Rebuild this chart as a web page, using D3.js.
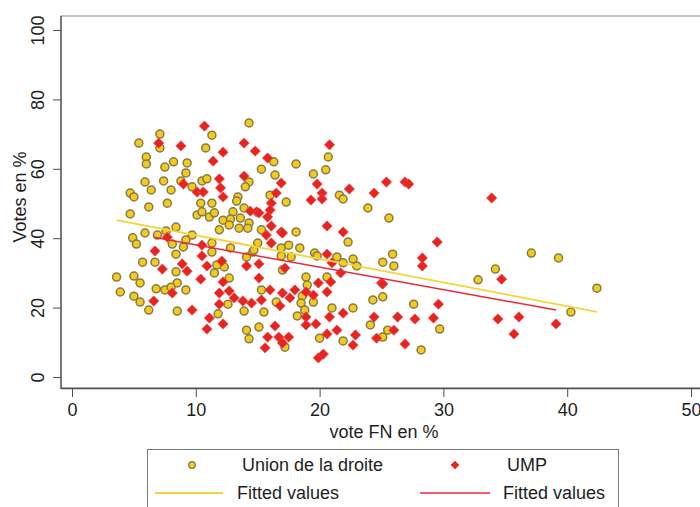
<!DOCTYPE html>
<html><head><meta charset="utf-8">
<script src="https://cdn.jsdelivr.net/npm/d3@7"></script>
<style>body{margin:0;background:#fff}svg{display:block;font-family:"Liberation Sans",Arial,Helvetica,sans-serif}</style>
</head><body><svg id="c" width="700" height="507"></svg>
<script>
// Union de la droite (x = vote FN %, y = votes %)
const udX=[14.3,11.3,7.1,7.1,5.4,10.8,6.0,6.0,8.2,9.3,7.5,9.2,14.3,14.0,5.9,7.4,8.8,9.7,10.5,10.9,6.4,8.0,4.7,5.0,10.4,7.7,11.3,13.4,13.3,6.2,4.7,10.1,10.5,11.1,11.5,13.0,12.2,12.8,13.6,13.9,12.7,13.5,14.3,14.2,8.4,11.9,9.7,5.9,4.9,5.2,6.9,7.6,9.2,11.3,8.1,8.4,11.3,12.8,14.6,15.0,5.7,6.7,12.3,11.5,3.6,5.0,5.5,8.4,8.5,12.7,3.9,5.0,5.5,6.8,7.5,8.0,9.2,6.2,8.5,12.6,13.9,11.8,14.1,14.3,15.3,15.5,15.1,17.2,16.5,14.1,14.7,16.9,17.5,18.1,18.4,17.7,16.9,17.0,15.3,18.9,19.0,18.6,18.5,19.5,18.8,18.2,20.6,20.0,21.9,19.6,19.8,21.4,21.9,22.7,23.0,22.3,25.1,25.9,26.0,25.1,24.3,22.7,21.0,24.1,25.5,25.1,25.6,23.9,21.6,21.9,20.7,20.5,19.5,18.1,16.3,15.3,16.4,16.0,17.3,27.6,28.2,29.7,32.8,34.2,37.1,39.3,40.3,42.4,11.7,9.0];
const udY=[73.2,69.7,70.0,66.0,67.4,66.0,63.4,61.4,62.0,61.7,60.5,58.8,56.2,54.8,56.2,56.5,56.5,54.8,56.5,57.1,53.9,53.9,53.0,51.9,50.1,50.1,50.1,51.9,50.7,49.0,47.0,46.7,47.6,46.1,47.3,47.6,45.2,45.5,45.8,48.7,43.8,42.9,44.4,42.9,43.2,42.4,40.9,41.5,40.1,38.3,40.9,42.1,39.5,38.6,38.3,35.4,36.0,37.2,36.0,38.6,33.1,33.1,31.7,30.0,28.8,29.1,27.1,30.3,27.1,28.5,24.5,23.3,21.6,25.4,25.1,25.9,25.1,19.3,19.0,21.0,19.0,18.2,13.5,11.0,25.1,18.7,14.4,8.6,21.6,34.6,36.6,37.2,38.0,41.8,37.2,34.6,34.9,30.8,42.4,28.8,26.5,23.3,21.3,21.6,19.3,17.6,28.8,11.2,10.4,35.7,34.9,34.6,32.9,34.0,32.0,38.9,33.1,35.4,32.0,23.1,22.2,19.9,19.9,15.0,13.5,11.5,45.8,48.7,52.4,51.3,63.4,59.7,58.5,61.4,62.0,59.9,58.2,52.4,50.4,21.0,7.8,13.8,28.0,31.1,35.7,34.3,18.7,25.6,32.3,37.5];
// UMP
const umpX=[10.7,7.0,8.8,12.2,13.9,14.8,11.4,15.8,11.9,13.9,9.0,12.0,12.2,10.1,10.6,14.9,10.5,7.7,6.7,10.5,12.1,10.9,8.9,9.3,7.3,14.1,10.4,12.2,11.9,12.7,8.1,6.6,9.7,13.1,13.8,14.5,15.3,11.9,11.1,12.2,10.9,16.0,17.0,18.0,17.6,16.8,15.1,17.2,15.7,16.9,16.1,15.1,16.4,15.8,16.7,17.5,15.6,17.0,18.9,19.7,18.9,20.6,21.4,22.7,22.9,24.6,19.9,20.3,21.9,20.8,24.4,20.9,19.9,20.6,18.9,19.5,20.6,21.0,21.7,25.0,21.9,20.6,20.8,19.8,20.2,19.3,20.2,22.4,24.4,25.4,26.9,27.2,16.9,16.5,16.1,16.0,14.4,15.1,15.8,16.1,17.0,33.9,29.5,28.3,28.3,25.1,34.7,29.6,26.3,27.7,29.2,26.0,26.9,34.4,36.1,35.7,39.1];
const umpY=[72.3,67.4,66.6,64.8,67.4,65.1,62.2,63.1,57.1,57.9,55.6,54.5,51.9,53.3,53.3,47.6,38.0,40.3,36.3,34.9,33.4,32.0,32.6,30.5,31.1,32.0,28.2,27.4,24.2,24.8,24.2,21.9,19.3,22.8,21.9,21.3,22.2,21.0,17.0,15.3,13.8,25.1,24.2,25.1,22.8,20.5,28.5,31.4,40.9,41.8,38.6,32.6,14.7,11.5,11.5,11.5,8.4,9.8,17.3,15.3,15.0,12.4,13.5,9.2,12.1,11.2,5.5,6.6,18.4,17.3,17.3,27.4,27.1,24.5,24.5,23.6,35.4,32.9,30.0,27.1,41.8,43.5,66.9,55.6,53.0,51.0,51.3,54.2,53.0,56.2,56.2,55.6,55.9,53.0,50.1,48.1,47.8,47.3,46.1,43.5,41.5,51.6,38.9,34.3,32.0,26.8,28.2,21.0,17.3,16.7,17.0,13.5,9.5,16.7,17.3,12.4,15.3];
// fitted values (end points of the fitted lines)
const fitUDx=[3.6,42.4], fitUDy=[45.2,18.8];
const fitUMPx=[6.6,39.1], fitUMPy=[40.3,19.3];
const xTicks=[0,10,20,30,40,50];
const yTicks=[0,20,40,60,80,100];
const legendLabels=["Union de la droite","UMP","Fitted values","Fitted values"];

const svg=d3.select("#c");
const x=d3.scaleLinear().domain([0,50]).range([72,691]);
const y=d3.scaleLinear().domain([0,100]).range([377,30]);
const FS=18, txt="#1e1e1e", axc="#505050";

// plot region frame
svg.append("rect").attr("x",61).attr("y",16).attr("width",660).attr("height",372)
  .attr("fill","none").attr("stroke","#8a8a8a").attr("stroke-width",1);
svg.append("line").attr("x1",61).attr("x2",61).attr("y1",16).attr("y2",389).attr("stroke",axc).attr("stroke-width",1.3);
svg.append("line").attr("x1",61).attr("x2",700).attr("y1",388.5).attr("y2",388.5).attr("stroke",axc).attr("stroke-width",1.3);

// y axis
const ya=svg.append("g").attr("transform","translate(61,0)")
  .call(d3.axisLeft(y).tickValues(yTicks).tickSize(8).tickPadding(0));
ya.select(".domain").remove();
ya.selectAll("line").attr("stroke",axc);
ya.selectAll("text").attr("transform","rotate(-90)").attr("x",0).attr("y",-17).attr("dy",0)
  .attr("text-anchor","middle").attr("font-size",FS).attr("fill",txt).attr("font-family",null);
// x axis
const xa=svg.append("g").attr("transform","translate(0,389)")
  .call(d3.axisBottom(x).tickValues(xTicks).tickSize(8));
xa.select(".domain").remove();
xa.selectAll("line").attr("stroke",axc);
xa.selectAll("text").attr("y",14).attr("dy","0.71em").attr("font-size",FS).attr("fill",txt).attr("font-family",null);

// titles
svg.append("text").attr("transform","translate(26,197) rotate(-90)").attr("text-anchor","middle")
  .attr("font-size",FS).attr("fill",txt).text("Votes en %");
svg.append("text").attr("x",384).attr("y",438).attr("text-anchor","middle")
  .attr("font-size",FS).attr("fill",txt).text("vote FN en %");

// points
const ud=udX.map((v,i)=>[v,udY[i]]);
const ump=umpX.map((v,i)=>[v,umpY[i]]);
svg.append("g").selectAll("circle").data(ud).join("circle")
  .attr("cx",d=>x(d[0])).attr("cy",d=>y(d[1])).attr("r",4)
  .attr("fill","#f3cb1b").attr("stroke","#857a4c").attr("stroke-width",1.5);
const dia=s=>`M0,${-s}L${s},0L0,${s}L${-s},0Z`;
svg.append("g").selectAll("path").data(ump).join("path")
  .attr("transform",d=>`translate(${x(d[0])},${y(d[1])})`).attr("d",dia(5.2))
  .attr("fill","#e8241e").attr("stroke","#ee4a55").attr("stroke-width",0.6);

// fitted lines
const line=d3.line().x(d=>x(d[0])).y(d=>y(d[1]));
svg.append("path").datum(fitUDx.map((v,i)=>[v,fitUDy[i]])).attr("d",line)
  .attr("fill","none").attr("stroke","#f5d43a").attr("stroke-width",1.8);
svg.append("path").datum(fitUMPx.map((v,i)=>[v,fitUMPy[i]])).attr("d",line)
  .attr("fill","none").attr("stroke","#e8283a").attr("stroke-width",1.5);

// legend
const lg=svg.append("g");
lg.append("rect").attr("x",147.5).attr("y",449.5).attr("width",471).attr("height",80)
  .attr("fill","#fff").attr("stroke","#7a7a7a").attr("stroke-width",1);
lg.append("circle").attr("cx",192).attr("cy",465).attr("r",3.3)
  .attr("fill","#f3cb1b").attr("stroke","#857a4c").attr("stroke-width",1.3);
lg.append("path").attr("transform","translate(455,465)").attr("d",dia(4.3)).attr("fill","#e8241e");
lg.append("line").attr("x1",155).attr("x2",223).attr("y1",493).attr("y2",493).attr("stroke","#f5d43a").attr("stroke-width",1.8);
lg.append("line").attr("x1",420).attr("x2",490).attr("y1",493).attr("y2",493).attr("stroke","#e8283a").attr("stroke-width",1.5);
const lpos=[[242,471],[507,471],[237,499],[503,499]];
legendLabels.forEach((t,i)=>lg.append("text").attr("x",lpos[i][0]).attr("y",lpos[i][1])
  .attr("font-size",FS).attr("fill",txt).text(t));
</script></body></html>
